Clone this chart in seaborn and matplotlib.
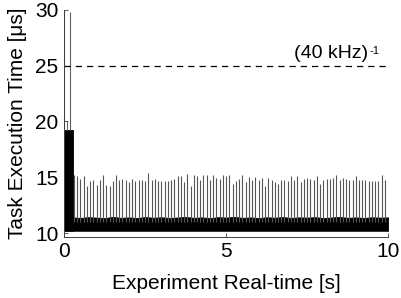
import numpy as np
import matplotlib
matplotlib.use('Agg')
import matplotlib.pyplot as plt
import seaborn as sns

# Periodic spikes (peak value in us), one every 0.1 s starting at 0.3 s
spike_start = 0.3
spike_period = 0.1
spike_peaks = [15.17, 15.08, 14.87, 15.14, 14.23, 14.68, 14.71, 14.32, 14.71, 15.23,
               14.32, 14.23, 14.68, 15.17, 14.71, 14.84, 14.71, 14.53, 14.84, 14.62,
               14.71, 14.71, 14.62, 15.38, 14.71, 14.84, 14.62, 14.62, 14.68, 14.62,
               14.78, 14.84, 15.14, 15.14, 14.53, 15.29, 14.23, 15.23, 15.14, 14.71,
               15.17, 15.23, 14.71, 15.17, 14.93, 14.84, 15.17,
               15.14, 15.23, 14.41, 14.62, 14.84, 15.23, 14.53, 15.02, 14.71, 15.02,
               14.78, 14.93, 14.23, 14.93, 14.78, 14.56, 14.41, 14.71, 14.78, 14.62,
               15.08, 14.71, 15.14, 14.53, 14.84, 14.93, 14.84, 14.71, 15.14, 14.41,
               14.78, 14.84, 14.84, 14.93, 15.23, 14.71, 14.93, 14.84, 14.78, 14.71,
               15.14, 14.71, 14.71, 14.71, 14.62, 14.62, 14.62, 14.62, 15.23, 14.75]

# Dense noise band (envelope)
band_t = [0.27, 0.5, 0.75, 1.0, 1.25, 1.5, 1.75, 2.0, 2.25, 2.5, 2.75, 3.0, 3.25, 3.5,
          3.75, 4.0, 4.25, 4.5, 4.75, 5.0, 5.25, 5.5, 5.75, 6.0, 6.25, 6.5, 6.75, 7.0,
          7.25, 7.5, 7.75, 8.0, 8.25, 8.5, 8.75, 9.0, 9.25, 9.5, 9.75, 10.0]
band_hi = [11.40, 11.35, 11.42, 11.38, 11.33, 11.45, 11.36, 11.40, 11.34, 11.43,
           11.37, 11.41, 11.35, 11.39, 11.44, 11.36, 11.40, 11.33, 11.42, 11.38,
           11.45, 11.36, 11.40, 11.34, 11.41, 11.37, 11.43, 11.35, 11.40, 11.38,
           11.42, 11.34, 11.39, 11.44, 11.36, 11.40, 11.35, 11.41, 11.38, 11.40]
band_lo = 10.2

# Start-up phase
startup_t = [0.0, 0.27]
startup_hi = 19.2
startup_outline = 20.0
startup_spike_t = [0.01, 0.18]
startup_spike_v = [30.0, 29.8]

deadline = 25.0  # (40 kHz)^-1

sns.set_theme(style='ticks')
plt.rcParams['font.family'] = ['Liberation Sans', 'DejaVu Sans']
plt.rcParams['text.color'] = 'black'
plt.rcParams['axes.labelcolor'] = 'black'

fig = plt.figure(figsize=(4.01, 2.98), dpi=100)
ax = fig.add_axes([0.16, 0.205, 0.808, 0.762])

spike_t = spike_start + spike_period * np.arange(len(spike_peaks))
ax.vlines(spike_t, 11.0, spike_peaks, color='#555555', lw=0.8)

ax.fill_between(band_t, band_lo, band_hi, color='black', lw=0.6)
ax.fill_between(startup_t, band_lo, startup_hi, color='black', lw=0.6)
ax.plot([0.0, 0.1, 0.1], [startup_outline, startup_outline, startup_hi], color='#606060', lw=0.7)
ax.vlines(startup_spike_t, startup_hi, startup_spike_v, color='#606060', lw=0.8)

ax.axhline(deadline, color='black', lw=0.9, ls=(0, (5, 4)))
lbl = ax.text(7.1, deadline + 0.35, '(40 kHz)', fontsize=14, ha='left', va='bottom')
ax.annotate('-1', xy=(1.0, 0.95), xycoords=lbl, xytext=(0.5, 0), textcoords='offset points',
            fontsize=8, ha='left', va='top')

ax.set_xlim(0, 10)
ax.set_ylim(9.65, 30)
ax.set_xticks([0, 5, 10])
ax.set_yticks([10, 15, 20, 25, 30])
ax.tick_params(direction='in', length=3, width=0.6, labelsize=15, pad=4,
               color='#404040', labelcolor='black')
sns.despine(ax=ax)
for s in ['left', 'bottom']:
    ax.spines[s].set_linewidth(0.7)
    ax.spines[s].set_color('#404040')

ax.set_xlabel('Experiment Real-time [s]', fontsize=15, labelpad=9)
ax.set_ylabel('Task Execution Time [μs]', fontsize=15, labelpad=6)

fig.savefig('out.png', dpi=100)
